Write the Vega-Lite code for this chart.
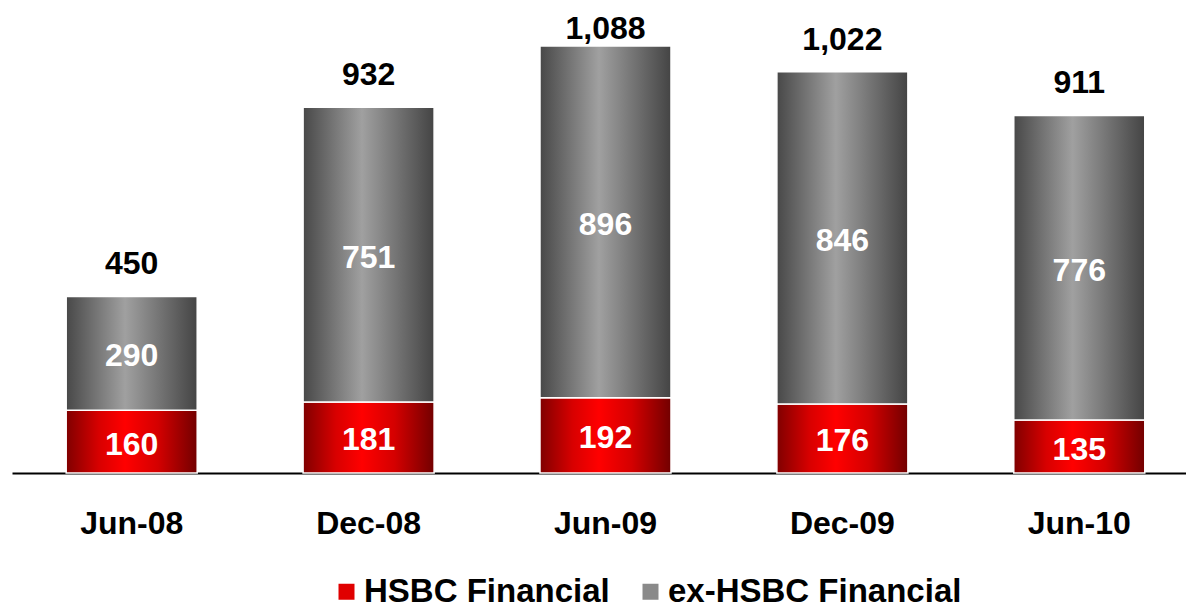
{
  "$schema": "https://vega.github.io/schema/vega-lite/v6.json",
  "width": 1174,
  "height": 471,
  "autosize": "none",
  "padding": {"left": 12, "top": 2, "right": 0, "bottom": 135},
  "background": "white",
  "data": {
    "values": [
      {"period": "Jun-08", "series": "HSBC Financial", "order": 0, "value": 160},
      {"period": "Jun-08", "series": "ex-HSBC Financial", "order": 1, "value": 290},
      {"period": "Dec-08", "series": "HSBC Financial", "order": 0, "value": 181},
      {"period": "Dec-08", "series": "ex-HSBC Financial", "order": 1, "value": 751},
      {"period": "Jun-09", "series": "HSBC Financial", "order": 0, "value": 192},
      {"period": "Jun-09", "series": "ex-HSBC Financial", "order": 1, "value": 896},
      {"period": "Dec-09", "series": "HSBC Financial", "order": 0, "value": 176},
      {"period": "Dec-09", "series": "ex-HSBC Financial", "order": 1, "value": 846},
      {"period": "Jun-10", "series": "HSBC Financial", "order": 0, "value": 135},
      {"period": "Jun-10", "series": "ex-HSBC Financial", "order": 1, "value": 776}
    ]
  },
  "encoding": {
    "x": {
      "field": "period",
      "type": "nominal",
      "sort": ["Jun-08", "Dec-08", "Jun-09", "Dec-09", "Jun-10"],
      "scale": {"paddingInner": 0.447, "paddingOuter": 0.2014, "align": 0.568},
      "axis": {
        "title": null,
        "labelAngle": 0,
        "domainColor": "#000000",
        "domainWidth": 2,
        "ticks": false,
        "tickSize": 0,
        "labelPadding": 35,
        "labelFont": "Liberation Sans",
        "labelFontWeight": "bold",
        "labelFontSize": 32,
        "labelColor": "#000000"
      }
    }
  },
  "resolve": {"scale": {"y": "independent"}},
  "layer": [
    {
      "transform": [
        {"stack": "value", "groupby": ["period"], "sort": [{"field": "order"}], "as": ["v0", "v1"]},
        {"filter": "datum.series === 'HSBC Financial'"}
      ],
      "mark": {
        "type": "bar",
        "stroke": "#ffffff",
        "strokeWidth": 1.5,
        "color": {
          "gradient": "linear", "x1": 0, "x2": 1, "y1": 0, "y2": 0,
          "stops": [
            {"offset": 0, "color": "#800000"},
            {"offset": 0.25, "color": "#d80000"},
            {"offset": 0.45, "color": "#ff0000"},
            {"offset": 0.7, "color": "#d40000"},
            {"offset": 1, "color": "#720000"}
          ]
        }
      },
      "encoding": {
        "y": {"field": "v0", "type": "quantitative", "scale": {"domain": [0, 1200]}, "axis": null},
        "y2": {"field": "v1"}
      }
    },
    {
      "transform": [
        {"stack": "value", "groupby": ["period"], "sort": [{"field": "order"}], "as": ["v0", "v1"]},
        {"filter": "datum.series === 'ex-HSBC Financial'"}
      ],
      "mark": {
        "type": "bar",
        "stroke": "#ffffff",
        "strokeWidth": 1.5,
        "color": {
          "gradient": "linear", "x1": 0, "x2": 1, "y1": 0, "y2": 0,
          "stops": [
            {"offset": 0, "color": "#484848"},
            {"offset": 0.45, "color": "#a0a0a0"},
            {"offset": 1, "color": "#444444"}
          ]
        }
      },
      "encoding": {
        "y": {"field": "v0", "type": "quantitative", "scale": {"domain": [0, 1200]}, "axis": null},
        "y2": {"field": "v1"}
      }
    },
    {
      "transform": [
        {"stack": "value", "groupby": ["period"], "sort": [{"field": "order"}], "as": ["v0", "v1"]},
        {"fold": ["v0", "v1"], "as": ["edge", "pos"]}
      ],
      "mark": {
        "type": "text",
        "font": "Liberation Sans",
        "fontWeight": "bold",
        "fontSize": 32,
        "color": "#ffffff",
        "baseline": "middle",
        "align": "center",
        "dy": 3
      },
      "encoding": {
        "y": {"aggregate": "mean", "field": "pos", "type": "quantitative", "stack": null, "scale": {"domain": [0, 1200]}, "axis": null},
        "detail": {"field": "series"},
        "text": {"aggregate": "max", "field": "value", "type": "quantitative"}
      }
    },
    {
      "mark": {
        "type": "text",
        "font": "Liberation Sans",
        "fontWeight": "bold",
        "fontSize": 32,
        "color": "#000000",
        "baseline": "alphabetic",
        "align": "center",
        "dy": -22
      },
      "encoding": {
        "y": {
          "aggregate": "sum", "field": "value", "type": "quantitative", "stack": null,
          "scale": {"domain": [0, 1050], "range": [471, 58.9], "clamp": true},
          "axis": null
        },
        "text": {"aggregate": "sum", "field": "value", "type": "quantitative", "format": ","}
      }
    },
    {
      "mark": {"type": "square", "opacity": 0},
      "encoding": {
        "y": {"field": "value", "type": "quantitative", "stack": null, "scale": {"domain": [0, 1200]}, "axis": null},
        "color": {
          "field": "series",
          "type": "nominal",
          "scale": {"domain": ["HSBC Financial", "ex-HSBC Financial"], "range": ["#e00000", "#8a8a8a"]},
          "legend": {
            "title": null,
            "orient": "none",
            "legendX": 318,
            "legendY": 573,
            "direction": "horizontal",
            "symbolType": "square",
            "symbolSize": 256,
            "symbolOpacity": 1,
            "symbolStrokeWidth": 0,
            "labelFont": "Liberation Sans",
            "labelFontWeight": "bold",
            "labelFontSize": 33,
            "labelColor": "#000000",
            "labelOffset": 1,
            "columnPadding": 24,
            "labelLimit": 400
          }
        }
      }
    }
  ],
  "config": {
    "view": {"stroke": null}
  }
}
